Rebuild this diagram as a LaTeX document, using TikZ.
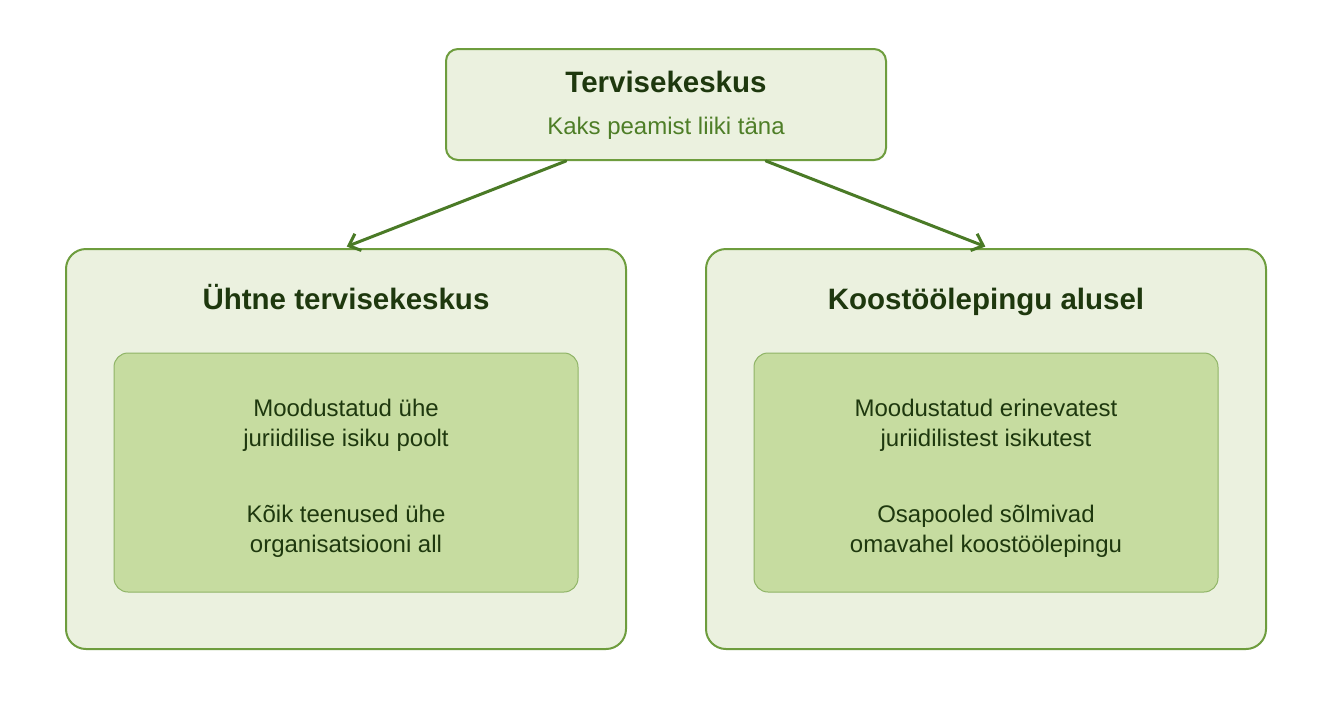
\documentclass[tikz,border=0pt]{standalone}
\usepackage{fontspec}
\setmainfont{Liberation Sans}
\usetikzlibrary{arrows.meta,calc,positioning}
\definecolor{tvLine}{HTML}{6E9D3E}
\definecolor{tvSoft}{HTML}{EBF1DF}
\definecolor{tvInner}{HTML}{C6DCA0}
\definecolor{tvInnerLine}{HTML}{8FB466}
\definecolor{tvInk}{HTML}{1E380E}
\definecolor{tvSub}{HTML}{4E7E27}
\definecolor{tvArrow}{HTML}{4A7A26}

\begin{document}
\begin{tikzpicture}[x=1pt,y=-1pt,>={Straight Barb[length=10pt,width=18pt]},line cap=round,line join=round]
\path[fill=white] (0,0) rectangle (1340,726);
\tikzset{outerbox/.style={draw=tvLine,fill=tvSoft,line width=2pt,rounded corners=20pt,minimum width=560pt,minimum height=400pt,inner sep=0pt},innerbox/.style={draw=tvInnerLine,fill=tvInner,line width=1pt,rounded corners=14pt,minimum width=464pt,minimum height=239pt},innertext/.style={align=center,text=tvInk,font=\fontsize{24}{30}\selectfont},head/.style={anchor=base,text=tvInk,font=\bfseries\fontsize{29.5}{34}\selectfont},link/.style={draw=tvArrow,line width=3pt,->,shorten >=4pt}}
\node[outerbox,rounded corners=12pt,minimum width=440pt,minimum height=111pt] (hub) at (666,104.5) {};
\node[head] (hubtitle) at (666,92.5) {Tervisekeskus};
\node[anchor=base,text=tvSub,font=\fontsize{24}{28}\selectfont] (hubsub) at (666,134.5) {Kaks peamist liiki täna};
\node[outerbox] (unified) at (346,449) {}; \node[outerbox] (contract) at (986,449) {};
\node[head] (unifiedhead) at (346,309.5) {Ühtne tervisekeskus};
\node[head] (contracthead) at (986,309.5) {Koostöölepingu alusel};
\node[innerbox] (unifiedin) at (346,472.5) {}; \node[innerbox] (contractin) at (986,472.5) {};
\node[innertext] (unifiedtext) at (346,478) {Moodustatud ühe\\juriidilise isiku poolt\\[46pt]Kõik teenused ühe\\organisatsiooni all};
\node[innertext] (contracttext) at (986,478) {Moodustatud erinevatest\\juriidilistest isikutest\\[46pt]Osapooled sõlmivad\\omavahel koostöölepingu};
\draw[link] ($(hub.south)+(-100,0)$) -- ($(unified.north)+(-3,0)$);
\draw[link] ($(hub.south)+(100,0)$) -- ($(contract.north)+(3,0)$);
\end{tikzpicture}
\end{document}
